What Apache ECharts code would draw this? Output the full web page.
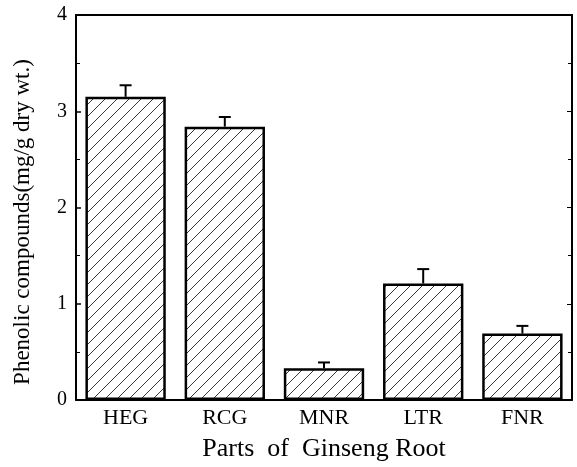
<!DOCTYPE html>
<html>
<head>
<meta charset="utf-8">
<script src="https://cdn.jsdelivr.net/npm/echarts@6/dist/echarts.min.js"></script>
<style>
  html, body { margin: 0; padding: 0; background: #fff; }
  #chart { width: 577px; height: 467px; }
</style>
</head>
<body>
<div id="chart"></div>
<script>
// data
var parts = ['HEG', 'RCG', 'MNR', 'LTR', 'FNR'];
var phenolic = [3.15, 2.84, 0.33, 1.21, 0.69];
var errUp = [0.12, 0.10, 0.06, 0.15, 0.08];

// diagonal hatch tile
function makeHatch() {
    var s = 12;
    var c = document.createElement('canvas');
    c.width = s; c.height = s;
    var ctx = c.getContext('2d');
    ctx.fillStyle = '#fff';
    ctx.fillRect(0, 0, s, s);
    ctx.strokeStyle = '#222';
    ctx.lineWidth = 0.9;
    ctx.beginPath();
    ctx.moveTo(-1, s + 1); ctx.lineTo(s + 1, -1);
    ctx.moveTo(-1, 1); ctx.lineTo(1, -1);
    ctx.moveTo(s - 1, s + 1); ctx.lineTo(s + 1, s - 1);
    ctx.stroke();
    return c;
}

var serif = '"Liberation Serif", "DejaVu Serif", serif';
var myChart = echarts.init(document.getElementById('chart'));

var option = {
    animation: false,
    grid: { left: 76, right: 5, top: 15, bottom: 66 },
    // y title sits a little below the plot centre in the original
    graphic: [{
        type: 'text',
        x: 23, y: 222,
        rotation: Math.PI / 2,
        style: {
            text: 'Phenolic compounds(mg/g dry wt.)',
            fontFamily: serif, fontSize: 23, fill: '#000',
            align: 'center', verticalAlign: 'middle'
        }
    }],
    xAxis: [{
        type: 'category',
        data: parts,
        name: 'Parts  of  Ginseng Root',
        nameLocation: 'middle',
        nameGap: 36,
        nameTextStyle: { fontFamily: serif, fontSize: 26, color: '#000' },
        axisLine: { onZero: false, lineStyle: { color: '#000', width: 2 } },
        axisTick: { show: false },
        axisLabel: { fontFamily: serif, fontSize: 22, color: '#000', margin: 7 }
    }, {
        type: 'category',
        data: parts,
        position: 'top',
        axisLine: { show: true, onZero: false, lineStyle: { color: '#000', width: 2 } },
        axisTick: { show: false },
        axisLabel: { show: false }
    }],
    yAxis: [{
        type: 'value',
        min: 0, max: 4, interval: 1,
        axisLine: { show: true, lineStyle: { color: '#000', width: 2 } },
        axisTick: { show: true, inside: true, length: 5, lineStyle: { color: '#000', width: 1.5 } },
        minorTick: { show: true, splitNumber: 2, length: 4, lineStyle: { color: '#000' } },
        splitLine: { show: false },
        axisLabel: { fontFamily: serif, fontSize: 20, color: '#000', margin: 9 }
    }, {
        type: 'value',
        min: 0, max: 4, interval: 1,
        position: 'right',
        axisLine: { show: true, lineStyle: { color: '#000', width: 2 } },
        axisTick: { show: true, inside: true, length: 5, lineStyle: { color: '#000' } },
        minorTick: { show: true, splitNumber: 2, length: 4, lineStyle: { color: '#000' } },
        splitLine: { show: false },
        axisLabel: { show: false }
    }],
    series: [{
        type: 'bar',
        data: phenolic,
        barWidth: '81%',
        itemStyle: {
            color: { image: makeHatch(), repeat: 'repeat' },
            borderColor: '#000',
            borderWidth: 2.5
        },
        z: 2
    }, {
        type: 'custom',
        data: phenolic.map(function (v, i) { return [i, v, v + errUp[i]]; }),
        renderItem: function (params, api) {
            var lo = api.coord([api.value(0), api.value(1)]);
            var hi = api.coord([api.value(0), api.value(2)]);
            var half = 6;
            return {
                type: 'group',
                children: [{
                    type: 'line',
                    shape: { x1: lo[0], y1: lo[1], x2: hi[0], y2: hi[1] },
                    style: { stroke: '#000', lineWidth: 2 }
                }, {
                    type: 'line',
                    shape: { x1: hi[0] - half, y1: hi[1], x2: hi[0] + half, y2: hi[1] },
                    style: { stroke: '#000', lineWidth: 2 }
                }]
            };
        },
        z: 3
    }]
};

myChart.setOption(option);
</script>
</body>
</html>
